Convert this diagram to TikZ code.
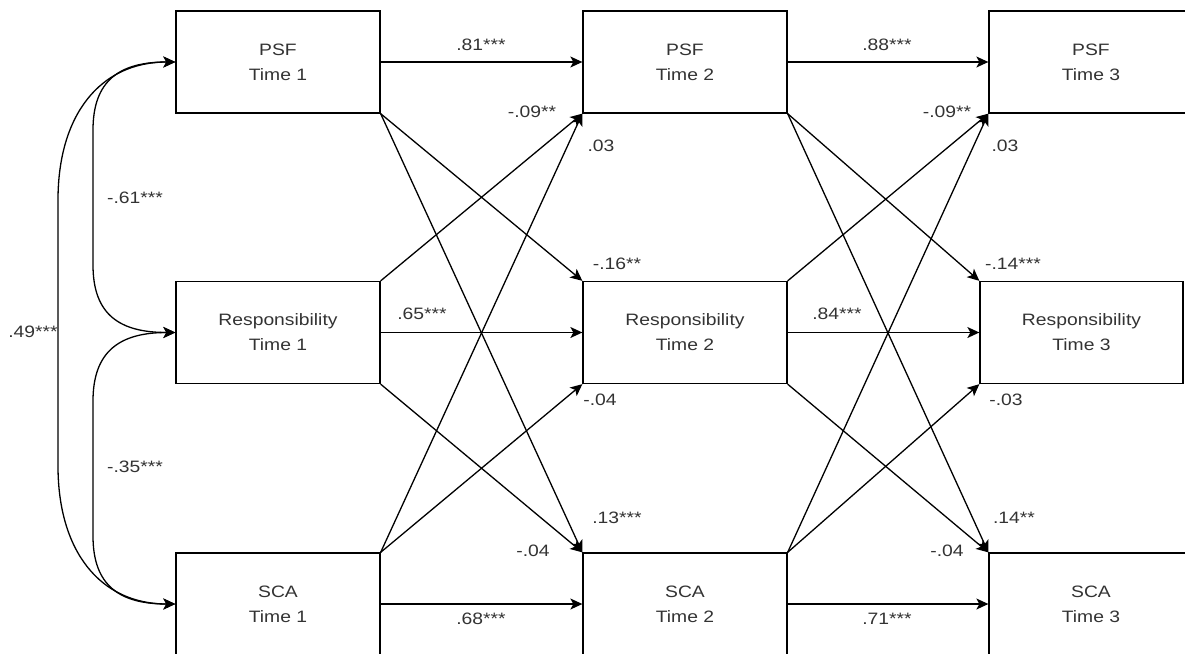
\documentclass[tikz,border=0pt]{standalone}
\usepackage{fontspec}
\setmainfont[FakeStretch=1.17]{Liberation Sans}
\usetikzlibrary{arrows.meta}
\definecolor{txt}{HTML}{333333}
\begin{document}
\begin{tikzpicture}[x=1pt,y=-1pt,
  var/.style={draw=black, line width=1.3pt, minimum width=204pt, minimum height=102pt,
    inner sep=0pt, align=center, font=\fontsize{16.5}{25}\selectfont, text=txt},
  coef/.style={inner sep=0pt, font=\fontsize{16.5}{20}\selectfont, text=txt},
  tip/.tip={Stealth[length=12pt,width=11pt,inset=3pt]},
  reg/.style={line width=1.3pt, -tip},
  cov/.style={line width=1.3pt, tip-tip}]
\useasboundingbox (0,0) rectangle (1185,653);
\clip (0,0) rectangle (1185,653);

% variables at the three waves
\node[var] (p1) at (278,62)    {PSF\\Time 1};
\node[var] (r1) at (278,332.5) {Responsibility\\Time 1};
\node[var] (s1) at (278,604)   {SCA\\Time 1};
\node[var] (p2) at (685,62)    {PSF\\Time 2};
\node[var] (r2) at (685,332.5) {Responsibility\\Time 2};
\node[var] (s2) at (685,604)   {SCA\\Time 2};
\node[var] (p3) at (1091,62)   {PSF\\Time 3};
\node[var, minimum width=203pt] (r3) at (1081.5,332.5) {Responsibility\\Time 3};
\node[var] (s3) at (1091,604)  {SCA\\Time 3};

% autoregressive paths
\draw[reg] (p1.east) -- (p2.west);
\draw[reg] (r1.east) -- (r2.west);
\draw[reg] (s1.east) -- (s2.west);
\draw[reg] (p2.east) -- (p3.west);
\draw[reg] (r2.east) -- (r3.west);
\draw[reg] (s2.east) -- (s3.west);

% cross-lagged paths, wave 1 to wave 2
\draw[reg] (p1.south east) -- (r2.north west);
\draw[reg] (p1.south east) -- (s2.north west);
\draw[reg] (r1.north east) -- (p2.south west);
\draw[reg] (r1.south east) -- (s2.north west);
\draw[reg] (s1.north east) -- (p2.south west);
\draw[reg] (s1.north east) -- (r2.south west);

% cross-lagged paths, wave 2 to wave 3
\draw[reg] (p2.south east) -- (r3.north west);
\draw[reg] (p2.south east) -- (s3.north west);
\draw[reg] (r2.north east) -- (p3.south west);
\draw[reg] (r2.south east) -- (s3.north west);
\draw[reg] (s2.north east) -- (p3.south west);
\draw[reg] (s2.north east) -- (r3.south west);

% wave 1 covariances
\draw[cov] (p1.west) .. controls (120,62) and (93,80) .. (93,130) -- (93,265)
  .. controls (93,315) and (120,332.5) .. (r1.west);
\draw[cov] (r1.west) .. controls (120,332.5) and (93,351) .. (93,401) -- (93,536)
  .. controls (93,586) and (120,604) .. (s1.west);
\draw[cov] (p1.west) .. controls (100,62) and (58,115) .. (58,200) -- (58,466)
  .. controls (58,551) and (100,604) .. (s1.west);

% coefficients
\node[coef] (c49)  at (33,332)   {.49***};
\node[coef] (c61)  at (135,198)  {-.61***};
\node[coef] (c35)  at (135,467)  {-.35***};
\node[coef] (c81)  at (481,45)   {.81***};
\node[coef] (c88)  at (887,45)   {.88***};
\node[coef] (c09a) at (532,112)  {-.09**};
\node[coef] (c09b) at (947,112)  {-.09**};
\node[coef] (c03a) at (601,146)  {.03};
\node[coef] (c03b) at (1005,146) {.03};
\node[coef] (c16)  at (617,264)  {-.16**};
\node[coef] (c14a) at (1013,264) {-.14***};
\node[coef] (c65)  at (422,314)  {.65***};
\node[coef] (c84)  at (837,314)  {.84***};
\node[coef] (c04a) at (600,400)  {-.04};
\node[coef] (c03c) at (1006,400) {-.03};
\node[coef] (c13)  at (617,518)  {.13***};
\node[coef] (c14b) at (1014,518) {.14**};
\node[coef] (c04b) at (533,551)  {-.04};
\node[coef] (c04c) at (947,551)  {-.04};
\node[coef] (c68)  at (481,619)  {.68***};
\node[coef] (c71)  at (887,619)  {.71***};
\end{tikzpicture}
\end{document}
